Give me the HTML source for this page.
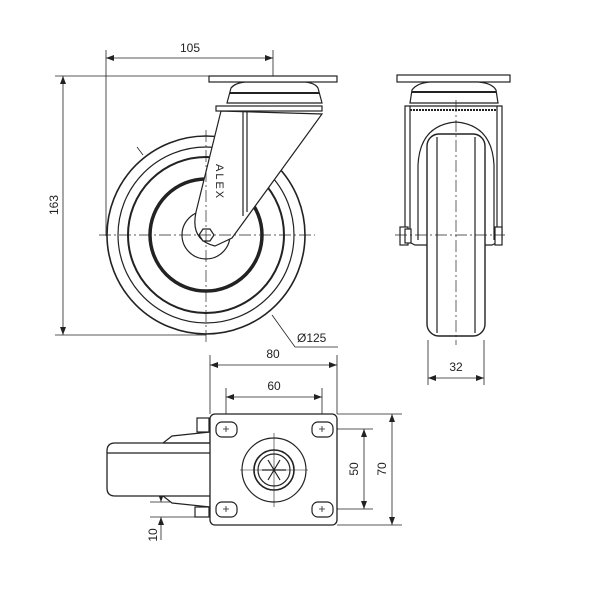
<!DOCTYPE html>
<html><head><style>html,body{margin:0;background:#fff}svg{display:block}</style></head><body>
<svg width="600" height="600" viewBox="0 0 600 600" xmlns="http://www.w3.org/2000/svg" font-family="Liberation Sans, sans-serif" font-size="12" fill="none" stroke="#222" stroke-width="1.2">
<defs><marker id="a" markerWidth="8" markerHeight="6" refX="8" refY="3" orient="auto-start-reverse" markerUnits="userSpaceOnUse"><path d="M0,0 L8,3 L0,6z" fill="#222" stroke="none"/></marker></defs>
<!-- FRONT VIEW -->
<g stroke-width="0.8">
<line x1="106" y1="50" x2="106" y2="236"/><line x1="273" y1="50" x2="273" y2="90"/>
<line x1="106" y1="58" x2="273" y2="58" marker-start="url(#a)" marker-end="url(#a)"/>
<line x1="55" y1="76" x2="215" y2="76"/><line x1="55" y1="335" x2="206" y2="335"/>
<line x1="63" y1="76" x2="63" y2="335" marker-start="url(#a)" marker-end="url(#a)"/>
<polyline points="272,315 295,347 338,347"/><line x1="137" y1="147" x2="143" y2="155"/>
</g>
<g fill="#222" stroke="none"><text x="190" y="52" text-anchor="middle">105</text>
<text transform="translate(58,205) rotate(-90)" text-anchor="middle">163</text>
<text x="297" y="342">Ø125</text></g>
<circle cx="206" cy="235" r="99" stroke-width="1.6"/>
<circle cx="206" cy="235" r="88"/>
<circle cx="206" cy="235" r="78" stroke-width="2"/>
<circle cx="206" cy="235" r="56" stroke-width="3.5"/>
<circle cx="206" cy="235" r="24"/>
<path d="M221,111 L196,212 Q190,240 215,246 L232,238 L322,114 Z" fill="#fff"/>
<polygon points="199,235 203,229 210,229 214,235 210,241 203,241" fill="#fff"/>
<line x1="243" y1="111" x2="243" y2="216"/><line x1="247" y1="111" x2="247" y2="212"/>
<rect x="216" y="106" width="106" height="5" fill="#fff"/>
<path d="M227,103 L231,88 Q235,83 245,82 L305,82 Q315,83 318,88 L322,103 Z" fill="#fff"/>
<line x1="230" y1="93" x2="319" y2="93" stroke-width="2"/>
<rect x="209" y="76" width="128" height="6" fill="#fff"/>
<text transform="translate(216,164) rotate(90)" fill="#222" stroke="none" font-size="11" letter-spacing="2">ALEX</text>
<g stroke-width="0.7" stroke-dasharray="12,3,2,3"><line x1="99" y1="235" x2="315" y2="235"/><line x1="206" y1="130" x2="206" y2="345"/></g>
<!-- SIDE VIEW -->
<rect x="397" y="75" width="113" height="7" fill="#fff"/>
<path d="M410,103 L412,90 Q417,83 430,82 L478,82 Q492,83 496,90 L498,103 Z" fill="#fff"/>
<line x1="412" y1="92" x2="496" y2="92" stroke-width="2"/>
<path d="M405,106 L502,106 L502,240 L492,245 L415,245 L405,240 Z" fill="#fff"/>
<line x1="410" y1="106" x2="410" y2="242"/><line x1="497" y1="106" x2="497" y2="242"/>
<line x1="410" y1="110" x2="497" y2="110" stroke-width="2" stroke-dasharray="2,1"/>
<path d="M418,240 L418,165 Q420,125 456,122 Q492,125 494,165 L494,240" />
<rect x="427" y="134" width="58" height="202" rx="12" fill="#fff" stroke-width="1.4"/>
<line x1="437" y1="137" x2="437" y2="333"/><line x1="475" y1="137" x2="475" y2="333"/>
<rect x="400" y="227" width="8" height="18" fill="#fff"/><rect x="405" y="229" width="6" height="14" fill="#fff"/>
<rect x="495" y="227" width="7" height="18" fill="#fff"/>
<g stroke-width="0.7" stroke-dasharray="12,3,2,3"><line x1="395" y1="235" x2="505" y2="235"/><line x1="456" y1="100" x2="456" y2="345"/></g>
<g stroke-width="0.8"><line x1="428" y1="340" x2="428" y2="385"/><line x1="484" y1="340" x2="484" y2="385"/>
<line x1="428" y1="378" x2="484" y2="378" marker-start="url(#a)" marker-end="url(#a)"/></g>
<text x="456" y="371" text-anchor="middle" fill="#222" stroke="none">32</text>
<!-- TOP VIEW -->
<g stroke-width="0.8">
<line x1="210" y1="355" x2="210" y2="414"/><line x1="337" y1="355" x2="337" y2="414"/>
<line x1="210" y1="365" x2="337" y2="365" marker-start="url(#a)" marker-end="url(#a)"/>
<line x1="226" y1="388" x2="226" y2="429"/><line x1="322" y1="388" x2="322" y2="429"/>
<line x1="226" y1="397" x2="322" y2="397" marker-start="url(#a)" marker-end="url(#a)"/>
<line x1="322" y1="429" x2="373" y2="429"/><line x1="322" y1="509" x2="373" y2="509"/>
<line x1="364" y1="429" x2="364" y2="509" marker-start="url(#a)" marker-end="url(#a)"/>
<line x1="337" y1="414" x2="402" y2="414"/><line x1="337" y1="525" x2="402" y2="525"/>
<line x1="392" y1="414" x2="392" y2="525" marker-start="url(#a)" marker-end="url(#a)"/>
<line x1="150" y1="502" x2="210" y2="502"/><line x1="150" y1="517" x2="210" y2="517"/>
<line x1="161" y1="485" x2="161" y2="502" marker-end="url(#a)"/>
<line x1="161" y1="540" x2="161" y2="517" marker-end="url(#a)"/>
</g>
<g fill="#222" stroke="none"><text x="273" y="358" text-anchor="middle">80</text><text x="274" y="390" text-anchor="middle">60</text>
<text transform="translate(358,469) rotate(-90)" text-anchor="middle">50</text>
<text transform="translate(386,469) rotate(-90)" text-anchor="middle">70</text>
<text transform="translate(157,535) rotate(-90)" text-anchor="middle">10</text></g>
<path d="M210,432 L172,436 L163,443 L163,496 L172,503 L210,507 Z" fill="#fff"/>
<path d="M210,443 L115,443 Q107,443 107,451 L107,488 Q107,496 115,496 L210,496" fill="#fff" stroke-width="1.3"/>
<line x1="107" y1="453" x2="210" y2="453"/><line x1="163" y1="443" x2="210" y2="443"/>
<rect x="197" y="418" width="12" height="14" fill="#fff"/><rect x="195" y="507" width="14" height="10" fill="#fff"/>
<rect x="210" y="414" width="127" height="111" rx="5" fill="#fff" stroke-width="1.3"/>
<g fill="#fff"><rect x="216" y="422" width="21" height="15" rx="6"/><rect x="312" y="422" width="21" height="15" rx="6"/>
<rect x="216" y="502" width="21" height="15" rx="6"/><rect x="312" y="502" width="21" height="15" rx="6"/></g>
<g stroke-width="0.8"><path d="M223,429h6M226,426v6M319,429h6M322,426v6M223,509h6M226,506v6M319,509h6M322,506v6"/></g>
<circle cx="274" cy="470" r="32"/><circle cx="274" cy="470" r="20" stroke-width="1.6"/><circle cx="274" cy="470" r="16"/>
<g stroke-width="1.2"><path d="M262,470h24M268,460l12,20M280,460l-12,20"/></g>
<g stroke-width="0.6"><line x1="240" y1="470" x2="308" y2="470"/><line x1="274" y1="433" x2="274" y2="507"/></g>
</svg>
</body></html>
